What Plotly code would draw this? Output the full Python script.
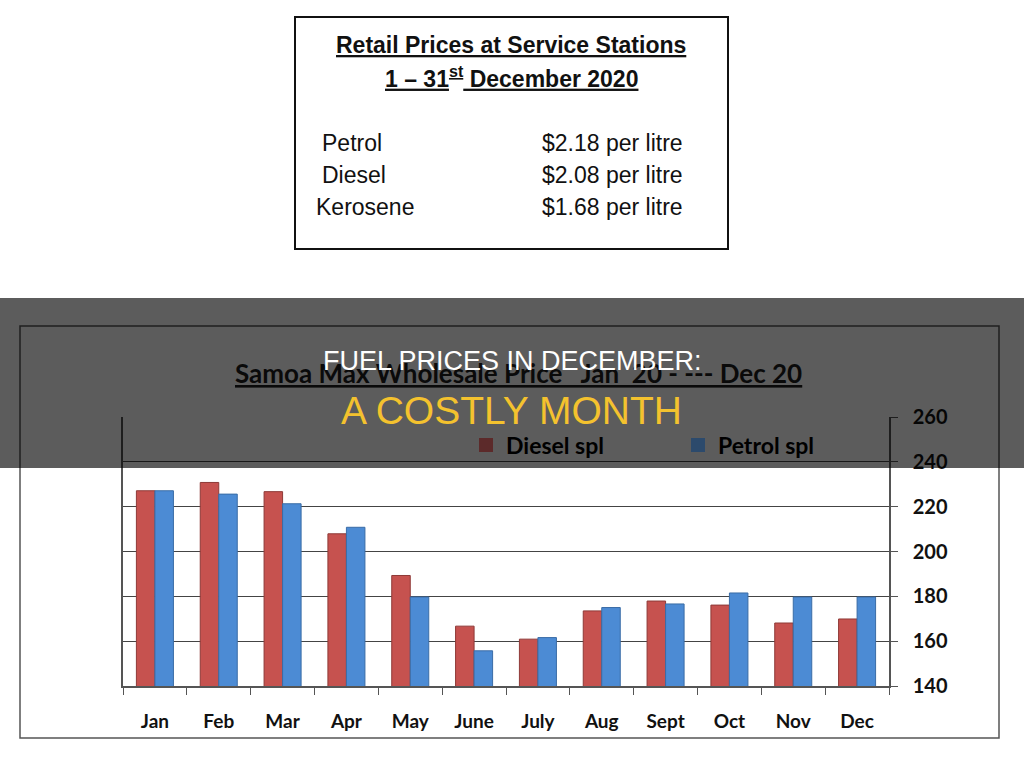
import plotly.graph_objects as go

# ---------------- data ----------------
months = ["Jan", "Feb", "Mar", "Apr", "May", "June", "July", "Aug", "Sept", "Oct", "Nov", "Dec"]
diesel_spl = [227.1, 230.8, 226.7, 207.9, 189.3, 166.7, 160.9, 173.5, 177.9, 176.1, 168.1, 169.9]
petrol_spl = [227.1, 225.6, 221.3, 210.8, 179.7, 155.7, 161.6, 175.0, 176.6, 181.5, 179.7, 179.7]
y_ticks = [140, 160, 180, 200, 220, 240, 260]

retail_fuels = ["Petrol", "Diesel", "Kerosene"]
retail_prices = ["$2.18 per litre", "$2.08 per litre", "$1.68 per litre"]

chart_title = "Samoa Max Wholesale Price\u00a0\u00a0\u00a0Jan\u00a0\u00a020 - --- Dec 20"
retail_title_1 = "Retail Prices at Service Stations"
retail_title_2 = "1 \u2013 31<sup>st</sup> December 2020"
banner_1 = "FUEL PRICES IN DECEMBER:"
banner_2 = "A COSTLY MONTH"

# ---------------- layout helpers (pixel -> paper) ----------------
W, H = 1024, 759
def px(x):
    return x / W
def py(y):
    return 1 - y / H

CAL = "Lato, Liberation Sans, sans-serif"
ARIAL = "Liberation Sans, Arial, sans-serif"

RED = "#c6524f"
BLUE = "#4c8bd4"

fig = go.Figure()
fig.add_trace(go.Bar(x=months, y=diesel_spl, name="Diesel spl", showlegend=False,
                     marker=dict(color=RED, line=dict(color="#8e3a37", width=1))))
fig.add_trace(go.Bar(x=months, y=petrol_spl, name="Petrol spl", showlegend=False,
                     marker=dict(color=BLUE, line=dict(color="#3a6ca6", width=1))))
# legend entries (shown under the dark banner, hence darker swatches)
fig.add_trace(go.Scatter(x=[None], y=[None], mode="markers", name="Diesel spl",
                         marker=dict(symbol="square", size=14, color="#5c2a2a")))
fig.add_trace(go.Scatter(x=[None], y=[None], mode="markers", name="Petrol spl",
                         marker=dict(symbol="square", size=14, color="#2c4a6c")))

shapes = [
    # chart frame
    dict(type="rect", xref="paper", yref="paper", x0=px(20), x1=px(999), y0=py(738), y1=py(326),
         line=dict(color="#555555", width=1.5), fillcolor="rgba(0,0,0,0)", layer="below"),
    # retail box
    dict(type="rect", xref="paper", yref="paper", x0=px(295), x1=px(728), y0=py(249), y1=py(17),
         line=dict(color="#111111", width=2), fillcolor="rgba(0,0,0,0)", layer="below"),
    # dark banner
    dict(type="rect", xref="paper", yref="paper", x0=0, x1=1, y0=py(468), y1=py(298),
         line=dict(width=0), fillcolor="rgba(0,0,0,0.64)", layer="above"),
]

annotations = [
    dict(text=chart_title, x=px(518), y=py(373), xref="paper", yref="paper", showarrow=False,
         xanchor="center", yanchor="middle",
         font=dict(family=CAL, size=26, color="#0a0a0a", weight="bold", lineposition="under")),
    dict(text=retail_title_1, x=px(511), y=py(45), xref="paper", yref="paper", showarrow=False,
         xanchor="center", yanchor="middle",
         font=dict(family=ARIAL, size=23, color="#111111", weight="bold", lineposition="under")),
    dict(text=retail_title_2, x=px(511), y=py(77), xref="paper", yref="paper", showarrow=False,
         xanchor="center", yanchor="middle",
         font=dict(family=ARIAL, size=23, color="#111111", weight="bold", lineposition="under")),
    dict(text=banner_1, x=px(512), y=py(361), xref="paper", yref="paper", showarrow=False,
         xanchor="center", yanchor="middle",
         font=dict(family=ARIAL, size=27, color="#ffffff")),
    dict(text=banner_2, x=px(511), y=py(410), xref="paper", yref="paper", showarrow=False,
         xanchor="center", yanchor="middle",
         font=dict(family=ARIAL, size=39, color="#f4c22e")),
]
fuel_x = [320, 320, 314]
row_y = [143, 175, 207]
for name, price, fx, ry in zip(retail_fuels, retail_prices, fuel_x, row_y):
    annotations.append(dict(text=name, x=px(fx), y=py(ry), xref="paper", yref="paper", showarrow=False,
                            xanchor="left", yanchor="middle",
                            font=dict(family=ARIAL, size=23, color="#111111")))
    annotations.append(dict(text=price, x=px(540), y=py(ry), xref="paper", yref="paper", showarrow=False,
                            xanchor="left", yanchor="middle",
                            font=dict(family=ARIAL, size=23, color="#111111")))

fig.update_layout(
    width=W, height=H,
    margin=dict(l=0, r=0, t=0, b=0, autoexpand=False),
    paper_bgcolor="white", plot_bgcolor="white",
    barmode="group", bargap=0.42, bargroupgap=0,
    shapes=shapes, annotations=annotations,
    showlegend=True,
    legend=dict(orientation="h", x=px(466), y=py(445), xanchor="left", yanchor="middle",
                bgcolor="rgba(0,0,0,0)", entrywidth=167, entrywidthmode="pixels",
                font=dict(family=CAL, size=23, color="#000000", weight="bold"),
                itemclick=False),
    xaxis=dict(domain=[px(123), px(889)], type="category", categoryorder="array", categoryarray=months,
               showline=True, linecolor="#555555", linewidth=1.5,
               ticks="outside", tickson="boundaries", ticklen=7, tickcolor="#555555",
               showgrid=False, zeroline=False, ticklabelstandoff=17,
               tickfont=dict(family=CAL, size=19, color="#111111", weight="bold")),
    yaxis=dict(domain=[py(686), py(417)], range=[140, 260], side="right",
               tickvals=y_ticks, showline=True, mirror=True, linecolor="#555555", linewidth=1.5,
               ticks="outside", ticklen=7, tickcolor="#555555",
               showgrid=True, gridcolor="#444444", gridwidth=1, zeroline=False,
               ticklabelstandoff=11,
               tickfont=dict(family=CAL, size=20, color="#111111", weight="bold")),
)

fig.write_html("out.html")
